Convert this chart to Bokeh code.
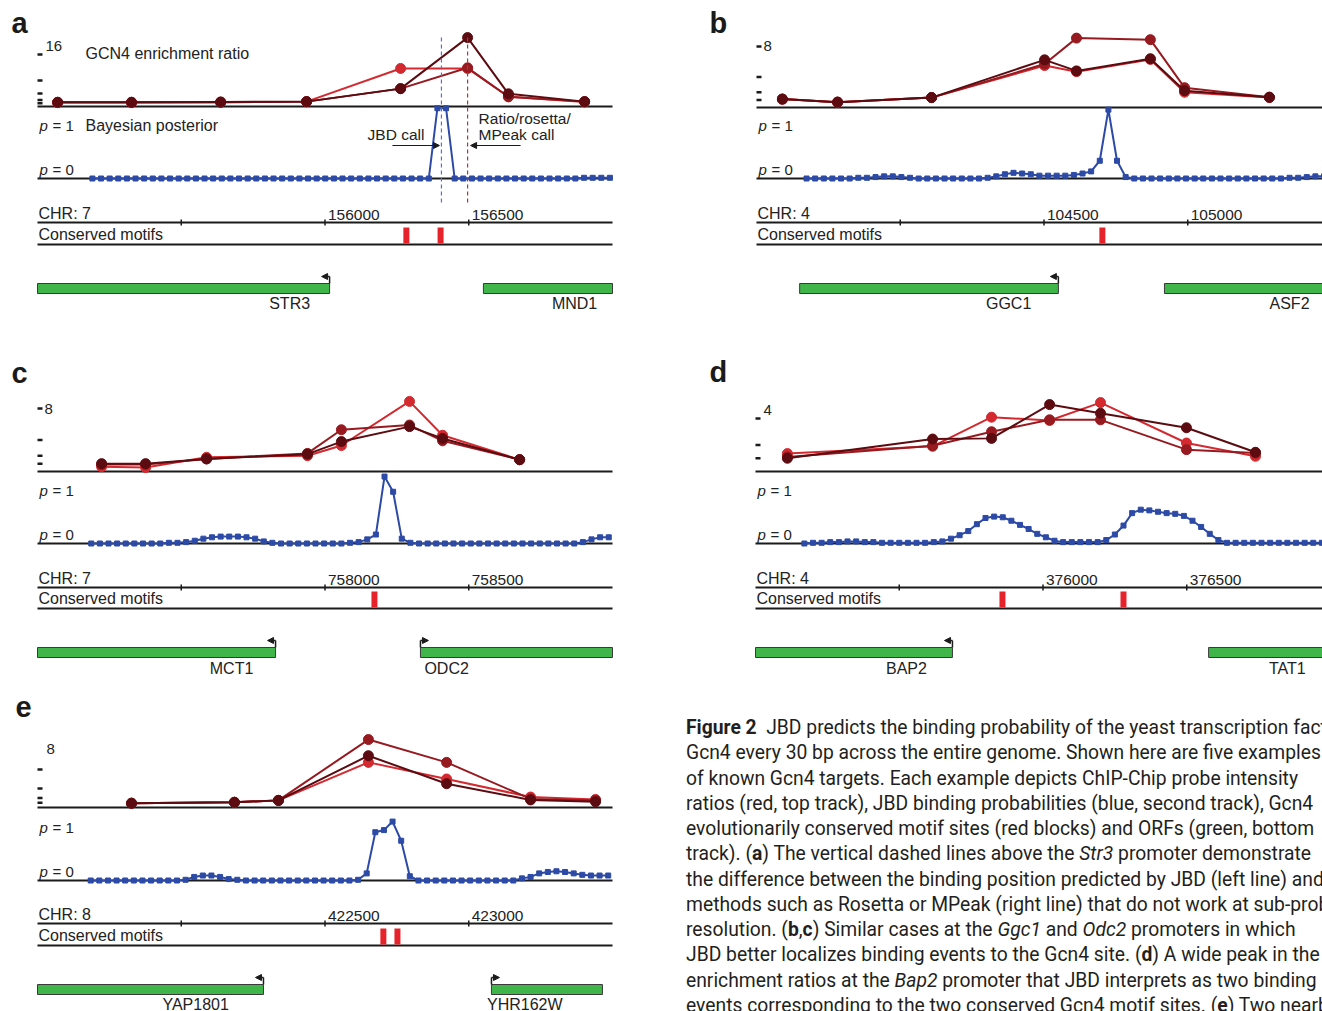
from bokeh.plotting import figure
from bokeh.models import Range1d, Div, Arrow, NormalHead
from bokeh.layouts import row, column
from bokeh.embed import file_html
from bokeh.resources import INLINE
from bokeh.core.properties import value

# ------------------------------------------------------------------ data
POST_STEP = 30  # JBD posterior every 30 bp

# panel a
A_LETTER = "a"
A_CHR = "CHR: 7"
A_WINDOW = (155000, 157000)
A_PROBES = [155070, 155327, 155637, 155936, 156263, 156496, 156638, 156903]
A_RATIO_BRIGHT = [1.2, 1.2, 1.3, 1.5, 11.7, 11.7, 3.0, 1.4]
A_RATIO_MID = [1.3, 1.3, 1.3, 1.5, 5.5, 11.9, 3.0, 1.5]
A_RATIO_DARK = [1.3, 1.3, 1.4, 1.5, 5.5, 21.2, 3.9, 1.5]
A_RATIO_TICKS = [16, 8, 4, 2, 1]
A_RATIO_LABEL = "16"
A_POST_START = 155191
A_POST = [0.00, 0.00, 0.00, 0.00, 0.00, 0.00, 0.00, 0.00, 0.00, 0.00,
          0.00, 0.00, 0.00, 0.00, 0.00, 0.00, 0.00, 0.00, 0.00, 0.00,
          0.00, 0.00, 0.00, 0.00, 0.00, 0.00, 0.00, 0.00, 0.00, 0.00,
          0.00, 0.00, 0.00, 0.00, 0.00, 0.00, 0.00, 0.00, 0.00, 0.00,
          0.99, 0.99, 0.00, 0.00, 0.00, 0.00, 0.00, 0.00, 0.00, 0.00,
          0.00, 0.00, 0.00, 0.00, 0.00, 0.00, 0.00, 0.01, 0.01, 0.01, 0.01]
A_AXIS_TICKS = [155500, 156000, 156500]
A_AXIS_LABELS = ["", "156000", "156500"]
A_MOTIFS = [156283, 156402]
A_GENE_NAMES = ["STR3", "MND1"]
A_GENE_LEFT = [155000, 156551]
A_GENE_RIGHT = [156016, 157000]
A_GENE_LABEL_X = [155877, 156868]
A_GENE_TSS = [156016, None]
A_GENE_STRAND = [-1, 1]
A_CALLS = [156405, 156496]  # JBD call, Ratio/rosetta/MPeak call

# panel b
B_LETTER = "b"
B_CHR = "CHR: 4"
B_WINDOW = (103500, 105500)
B_PROBES = [103590, 103782, 104109, 104502, 104613, 104870, 104989, 105284]
B_RATIO_BRIGHT = [1.1, 0.7, 1.3, 5.5, 4.7, 6.3, 2.0, 1.3]
B_RATIO_MID = [1.1, 0.7, 1.3, 5.7, 9.1, 8.9, 2.6, 1.35]
B_RATIO_DARK = [1.1, 0.7, 1.3, 6.25, 4.8, 6.4, 2.2, 1.35]
B_RATIO_TICKS = [8, 4, 2, 1]
B_RATIO_LABEL = "8"
B_POST_START = 103674
B_POST = [0.00, 0.00, 0.00, 0.00, 0.00, 0.00, 0.01, 0.01, 0.02, 0.03,
          0.03, 0.02, 0.01, 0.00, 0.00, 0.00, 0.00, 0.00, 0.00, 0.00,
          0.00, 0.01, 0.03, 0.06, 0.08, 0.07, 0.06, 0.04, 0.04, 0.04,
          0.04, 0.05, 0.07, 0.10, 0.25, 0.97, 0.25, 0.02, 0.00, 0.00,
          0.00, 0.00, 0.00, 0.00, 0.00, 0.00, 0.00, 0.00, 0.00, 0.00,
          0.00, 0.00, 0.00, 0.00, 0.00, 0.00, 0.01, 0.01, 0.02, 0.03, 0.03]
B_AXIS_TICKS = [104000, 104500, 105000]
B_AXIS_LABELS = ["", "104500", "105000"]
B_MOTIFS = [104703]
B_GENE_NAMES = ["GGC1", "ASF2"]
B_GENE_LEFT = [103650, 104919]
B_GENE_RIGHT = [104550, 105500]
B_GENE_LABEL_X = [104377, 105354]
B_GENE_TSS = [104550, None]
B_GENE_STRAND = [-1, 1]

# panel c
C_LETTER = "c"
C_CHR = "CHR: 7"
C_WINDOW = (757000, 759000)
C_PROBES = [757223, 757376, 757588, 757939, 758057, 758294, 758409, 758677]
C_RATIO_BRIGHT = [0.6, 0.5, 1.8, 2.0, 3.3, 8.9, 4.6, 1.5]
C_RATIO_MID = [0.9, 0.9, 1.6, 2.3, 5.3, 5.9, 3.9, 1.5]
C_RATIO_DARK = [1.0, 1.0, 1.6, 2.2, 3.8, 5.7, 4.2, 1.5]
C_RATIO_TICKS = [8, 4, 2, 1]
C_RATIO_LABEL = "8"
C_POST_START = 757187
C_POST = [0.00, 0.00, 0.00, 0.00, 0.00, 0.00, 0.00, 0.00, 0.00, 0.01,
          0.01, 0.02, 0.04, 0.07, 0.09, 0.10, 0.10, 0.10, 0.09, 0.07,
          0.03, 0.01, 0.00, 0.00, 0.00, 0.00, 0.00, 0.00, 0.00, 0.00,
          0.01, 0.02, 0.06, 0.13, 0.97, 0.75, 0.07, 0.01, 0.00, 0.00,
          0.00, 0.00, 0.00, 0.00, 0.00, 0.00, 0.00, 0.00, 0.00, 0.00,
          0.00, 0.00, 0.00, 0.00, 0.00, 0.00, 0.00, 0.02, 0.06, 0.09, 0.09]
C_AXIS_TICKS = [757500, 758000, 758500]
C_AXIS_LABELS = ["", "758000", "758500"]
C_MOTIFS = [758172]
C_GENE_NAMES = ["MCT1", "ODC2"]
C_GENE_LEFT = [757000, 758332]
C_GENE_RIGHT = [757828, 759000]
C_GENE_LABEL_X = [757675, 758423]
C_GENE_TSS = [757828, 758332]
C_GENE_STRAND = [-1, 1]

# panel d
D_LETTER = "d"
D_CHR = "CHR: 4"
D_WINDOW = (375000, 377000)
D_PROBES = [375111, 375616, 375821, 376023, 376200, 376499, 376739]
D_RATIO_BRIGHT = [1.35, 1.9, 4.1, 3.85, 5.2, 2.15, 1.15]
D_RATIO_MID = [1.1, 1.95, 3.0, 3.9, 3.9, 1.65, 1.4]
D_RATIO_DARK = [1.0, 2.45, 2.5, 5.05, 4.4, 3.3, 1.45]
D_RATIO_TICKS = [4, 2, 1]
D_RATIO_LABEL = "4"
D_POST_START = 375170
D_POST = [0.00, 0.01, 0.01, 0.02, 0.02, 0.03, 0.03, 0.02, 0.02, 0.01,
          0.01, 0.01, 0.01, 0.01, 0.01, 0.02, 0.03, 0.07, 0.12, 0.18,
          0.28, 0.37, 0.39, 0.38, 0.33, 0.27, 0.21, 0.14, 0.09, 0.04,
          0.02, 0.02, 0.02, 0.02, 0.02, 0.05, 0.13, 0.26, 0.44, 0.49,
          0.48, 0.46, 0.44, 0.43, 0.40, 0.33, 0.24, 0.14, 0.05, 0.01,
          0.01, 0.01, 0.01, 0.01, 0.01, 0.01, 0.01, 0.01, 0.01, 0.01, 0.01]
D_AXIS_TICKS = [375500, 376000, 376500]
D_AXIS_LABELS = ["", "376000", "376500"]
D_MOTIFS = [375859, 376280]
D_GENE_NAMES = ["BAP2", "TAT1"]
D_GENE_LEFT = [375000, 376576]
D_GENE_RIGHT = [375685, 377000]
D_GENE_LABEL_X = [375525, 376850]
D_GENE_TSS = [375685, None]
D_GENE_STRAND = [-1, 1]

# panel e
E_LETTER = "e"
E_CHR = "CHR: 8"
E_WINDOW = (421500, 423500)
E_PROBES = [421827, 422185, 422338, 422651, 422923, 423215, 423441]
E_RATIO_BRIGHT = [0.9, 1.1, 1.5, 9.5, 6.0, 2.2, 1.7]
E_RATIO_MID = [0.9, 1.1, 1.5, 14.3, 9.5, 1.8, 1.5]
E_RATIO_DARK = [0.9, 1.1, 1.5, 10.9, 5.0, 1.6, 1.2]
E_RATIO_TICKS = [8, 4, 2, 1]
E_RATIO_LABEL = "8"
E_POST_START = 421685
E_POST = [0.00, 0.00, 0.00, 0.00, 0.00, 0.00, 0.00, 0.00, 0.00, 0.00,
          0.00, 0.01, 0.05, 0.07, 0.07, 0.05, 0.02, 0.01, 0.00, 0.00,
          0.00, 0.00, 0.00, 0.00, 0.00, 0.00, 0.00, 0.00, 0.00, 0.00,
          0.00, 0.01, 0.10, 0.68, 0.71, 0.83, 0.56, 0.06, 0.00, 0.00,
          0.00, 0.00, 0.00, 0.00, 0.00, 0.00, 0.00, 0.00, 0.00, 0.00,
          0.03, 0.05, 0.10, 0.12, 0.13, 0.12, 0.10, 0.08, 0.07, 0.07, 0.07]
E_AXIS_TICKS = [422000, 422500, 423000]
E_AXIS_LABELS = ["", "422500", "423000"]
E_MOTIFS = [422703, 422752]
E_GENE_NAMES = ["YAP1801", "YHR162W"]
E_GENE_LEFT = [421500, 423079]
E_GENE_RIGHT = [422286, 423465]
E_GENE_LABEL_X = [422050, 423195]
E_GENE_TSS = [422286, 423079]
E_GENE_STRAND = [-1, 1]

CAPTION_LINES = [
    "<b>Figure 2</b>&nbsp;&nbsp;JBD predicts the binding probability of the yeast transcription factor",
    "Gcn4 every 30 bp across the entire genome. Shown here are five examples",
    "of known Gcn4 targets. Each example depicts ChIP-Chip probe intensity",
    "ratios (red, top track), JBD binding probabilities (blue, second track), Gcn4",
    "evolutionarily conserved motif sites (red blocks) and ORFs (green, bottom",
    "track). (<b>a</b>) The vertical dashed lines above the <i>Str3</i> promoter demonstrate",
    "the difference between the binding position predicted by JBD (left line) and",
    "methods such as Rosetta or MPeak (right line) that do not work at sub-probe",
    "resolution. (<b>b</b>,<b>c</b>) Similar cases at the <i>Ggc1</i> and <i>Odc2</i> promoters in which",
    "JBD better localizes binding events to the Gcn4 site. (<b>d</b>) A wide peak in the",
    "enrichment ratios at the <i>Bap2</i> promoter that JBD interprets as two binding",
    "events corresponding to the two conserved Gcn4 motif sites. (<b>e</b>) Two nearby",
]

# ------------------------------------------------------------------ style
PX_PER_BP = 575 / 2000
FONT = "Liberation Sans"
BLACK = "#1b1b1b"
TEXT = "#222222"
BLUE = "#2c4aa6"
GREEN = "#3fb54a"
MOTIF_RED = "#e6232a"
RATIO_COLORS = ["#d3292f", "#961a1f", "#5c0b10"]


def build_panel(d, lay):
    s = PX_PER_BP
    g0, g1 = d["window"]
    xs = lay["xs"]
    X0, Y0, W, H = lay["frame"]

    def gx(px):
        return g0 + (px - xs) / s

    def dg(px):
        return px / s

    p = figure(width=W, height=H,
               x_range=Range1d(gx(X0), gx(X0 + W)),
               y_range=Range1d(Y0 + H, Y0),
               x_axis_type=None, y_axis_type=None, min_border=0,
               toolbar_location=None, output_backend="svg",
               outline_line_color=None, background_fill_color="white",
               border_fill_color="white", margin=(0, 0, 0, 0))
    base, ppu = lay["base"], lay["ppu"]
    p0, p1 = lay["p0"], lay["p1"]
    pp = p0 - p1
    p.extra_y_ranges = {
        "ratio": Range1d((base - (Y0 + H)) / ppu, (base - Y0) / ppu),
        "post": Range1d((p0 - (Y0 + H)) / pp, (p0 - Y0) / pp),
    }

    def txt(x, y, t, size="16px", align="left", style="normal", color=TEXT, **kw):
        p.text(x=[x], y=[y], text=[t], text_font=value(FONT), text_font_size=size,
               text_align=align, text_baseline="middle", text_font_style=style,
               text_color=color, **kw)

    def hline(y, width=2):
        p.segment(x0=[g0], y0=[y], x1=[g1], y1=[y], line_color=BLACK, line_width=width)

    # panel letter
    lx, ly = lay["letter"]
    txt(gx(lx), ly, d["letter"], size="29px", style="bold", color="#1a1a1a")

    # ---- ratio track
    hline(base)
    ticks = d["ratio_ticks"]
    n = len(ticks)
    p.segment(x0=[g0] * n, y0=ticks, x1=[g0 + dg(5)] * n, y1=ticks,
              line_color=BLACK, line_width=2.5, y_range_name="ratio")
    ldx, ldy = lay["ratio_label_off"]
    p.text(x=[g0 + dg(ldx)], y=[ticks[0]], text=[d["ratio_label"]], y_offset=ldy,
           text_font=value(FONT), text_font_size="15px", text_baseline="middle",
           text_color=TEXT, y_range_name="ratio")
    for vals, col in zip(d["ratios"], RATIO_COLORS):
        p.line(d["probes"], vals, line_color=col, line_width=2, y_range_name="ratio")
        p.scatter(d["probes"], vals, size=10, fill_color=col, line_color=col,
                  y_range_name="ratio")

    # ---- posterior track
    hline(p0)
    post = d["post"]
    xp = [d["post_start"] + POST_STEP * i for i in range(len(post))]
    p.line(xp, post, line_color=BLUE, line_width=2, y_range_name="post")
    p.scatter(xp, post, marker="square", size=5, fill_color=BLUE, line_color=BLUE,
              y_range_name="post")
    for yy, lab in ((p0 - 53, "= 1"), (p0 - 9, "= 0")):
        txt(gx(xs + 2), yy, "p", size="15px", style="italic")
        txt(gx(xs + 15), yy, lab, size="15px")

    # ---- chromosome axis
    cy = lay["chr_y"]
    hline(cy)
    at = d["axis_ticks"]
    p.segment(x0=at, y0=[cy - 3] * len(at), x1=at, y1=[cy + 3] * len(at),
              line_color=BLACK, line_width=1.5)
    p.text(x=at, y=[cy - 8] * len(at), text=d["axis_labels"], x_offset=3,
           text_font=value(FONT), text_font_size="15.5px", text_baseline="middle",
           text_color=TEXT)
    txt(gx(xs + 1), cy - 9, d["chr"])

    # ---- conserved motifs
    my = lay["motif_y"]
    hline(my)
    txt(gx(xs + 1), my - 10, "Conserved motifs")
    mt = d["motifs"]
    p.rect(x=mt, y=[my - 9] * len(mt), width=6, height=16, width_units="screen",
           height_units="screen", fill_color=MOTIF_RED, line_color=None)

    # ---- genes
    gt, gb = lay["gene_y"]
    left = [max(v, g0) for v in d["gene_left"]]
    right = [min(v, g1) for v in d["gene_right"]]
    p.quad(left=left, right=right, top=[gt] * len(left), bottom=[gb] * len(left),
           fill_color=GREEN, line_color="#3a3a3a", line_width=1)
    p.text(x=d["gene_label_x"], y=[lay["gene_label_y"]] * len(left), text=d["gene_names"],
           text_font=value(FONT), text_font_size="16px", text_align="center",
           text_baseline="middle", text_color=TEXT)
    for tss, strand in zip(d["gene_tss"], d["gene_strand"]):
        if tss is None:
            continue
        p.segment(x0=[tss], y0=[gt], x1=[tss], y1=[gt - 7], line_color=BLACK, line_width=1.5)
        p.add_layout(Arrow(end=NormalHead(size=6, fill_color=BLACK, line_color=BLACK),
                           x_start=tss, y_start=gt - 7, x_end=tss + strand * dg(8),
                           y_end=gt - 7, line_color=BLACK, line_width=1.5))

    # ---- panel a annotations
    if "calls" in d:
        jbd, rat = d["calls"]
        txt(gx(85), 53, "GCN4 enrichment ratio")
        txt(gx(85), p0 - 53, "Bayesian posterior")
        p.segment(x0=[jbd], y0=[37], x1=[jbd], y1=[203], line_color="#5b6fcf",
                  line_width=1.2, line_dash="4 3")
        p.segment(x0=[rat], y0=[37], x1=[rat], y1=[203], line_color="#b5343c",
                  line_width=1.2, line_dash="4 3")
        txt(jbd - dg(17), 134, "JBD call", size="15.5px", align="right")
        txt(rat + dg(11), 118, "Ratio/rosetta/", size="15.5px")
        txt(rat + dg(11), 134, "MPeak call", size="15.5px")
        p.add_layout(Arrow(end=NormalHead(size=6, fill_color=BLACK, line_color=BLACK),
                           x_start=jbd - dg(49), y_start=145, x_end=jbd - dg(2), y_end=145,
                           line_color=BLACK, line_width=1.2))
        p.add_layout(Arrow(end=NormalHead(size=6, fill_color=BLACK, line_color=BLACK),
                           x_start=rat + dg(53), y_start=145, x_end=rat + dg(3), y_end=145,
                           line_color=BLACK, line_width=1.2))
    return p


def pack(letter, chrom, window, probes, bright, mid, dark, rticks, rlabel, pstart, post,
         aticks, alabels, motifs, names, gl, gr, glx, tss, strand, calls=None):
    d = dict(letter=letter, chr=chrom, window=window, probes=probes,
             ratios=[bright, mid, dark], ratio_ticks=rticks, ratio_label=rlabel,
             post_start=pstart, post=post, axis_ticks=aticks, axis_labels=alabels,
             motifs=motifs, gene_names=names, gene_left=gl, gene_right=gr,
             gene_label_x=glx, gene_tss=tss, gene_strand=strand)
    if calls is not None:
        d["calls"] = calls
    return d


DA = pack(A_LETTER, A_CHR, A_WINDOW, A_PROBES, A_RATIO_BRIGHT, A_RATIO_MID, A_RATIO_DARK,
          A_RATIO_TICKS, A_RATIO_LABEL, A_POST_START, A_POST, A_AXIS_TICKS, A_AXIS_LABELS,
          A_MOTIFS, A_GENE_NAMES, A_GENE_LEFT, A_GENE_RIGHT, A_GENE_LABEL_X, A_GENE_TSS,
          A_GENE_STRAND, A_CALLS)
DB = pack(B_LETTER, B_CHR, B_WINDOW, B_PROBES, B_RATIO_BRIGHT, B_RATIO_MID, B_RATIO_DARK,
          B_RATIO_TICKS, B_RATIO_LABEL, B_POST_START, B_POST, B_AXIS_TICKS, B_AXIS_LABELS,
          B_MOTIFS, B_GENE_NAMES, B_GENE_LEFT, B_GENE_RIGHT, B_GENE_LABEL_X, B_GENE_TSS,
          B_GENE_STRAND)
DC = pack(C_LETTER, C_CHR, C_WINDOW, C_PROBES, C_RATIO_BRIGHT, C_RATIO_MID, C_RATIO_DARK,
          C_RATIO_TICKS, C_RATIO_LABEL, C_POST_START, C_POST, C_AXIS_TICKS, C_AXIS_LABELS,
          C_MOTIFS, C_GENE_NAMES, C_GENE_LEFT, C_GENE_RIGHT, C_GENE_LABEL_X, C_GENE_TSS,
          C_GENE_STRAND)
DD = pack(D_LETTER, D_CHR, D_WINDOW, D_PROBES, D_RATIO_BRIGHT, D_RATIO_MID, D_RATIO_DARK,
          D_RATIO_TICKS, D_RATIO_LABEL, D_POST_START, D_POST, D_AXIS_TICKS, D_AXIS_LABELS,
          D_MOTIFS, D_GENE_NAMES, D_GENE_LEFT, D_GENE_RIGHT, D_GENE_LABEL_X, D_GENE_TSS,
          D_GENE_STRAND)
DE = pack(E_LETTER, E_CHR, E_WINDOW, E_PROBES, E_RATIO_BRIGHT, E_RATIO_MID, E_RATIO_DARK,
          E_RATIO_TICKS, E_RATIO_LABEL, E_POST_START, E_POST, E_AXIS_TICKS, E_AXIS_LABELS,
          E_MOTIFS, E_GENE_NAMES, E_GENE_LEFT, E_GENE_RIGHT, E_GENE_LABEL_X, E_GENE_TSS,
          E_GENE_STRAND)

# ------------------------------------------------------------------ layout (reference pixels)
LA = dict(frame=(0, 0, 680, 345), xs=37, letter=(11, 22), base=106, ppu=3.25,
          ratio_label_off=(8, -9), p0=178, p1=107, chr_y=222, motif_y=244,
          gene_y=(283, 293), gene_label_y=303)
LB = dict(frame=(680, 0, 642, 345), xs=756, letter=(709, 22), base=107, ppu=7.625,
          ratio_label_off=(7, -1), p0=178, p1=107, chr_y=222, motif_y=244,
          gene_y=(283, 293), gene_label_y=303)
LC = dict(frame=(0, 345, 680, 340), xs=37, letter=(11, 372), base=471, ppu=7.875,
          ratio_label_off=(7, 0), p0=543, p1=474, chr_y=587, motif_y=608,
          gene_y=(647, 657), gene_label_y=668)
LD = dict(frame=(680, 345, 642, 360), xs=755, letter=(709, 371), base=471, ppu=13.25,
          ratio_label_off=(8, -9), p0=543, p1=474, chr_y=587, motif_y=608,
          gene_y=(647, 657), gene_label_y=668)
LE = dict(frame=(0, 685, 680, 326), xs=37, letter=(15, 706), base=807, ppu=4.75,
          ratio_label_off=(9, -21), p0=880, p1=809, chr_y=923, motif_y=945,
          gene_y=(984, 994), gene_label_y=1004)

pa = build_panel(DA, LA)
pb = build_panel(DB, LB)
pc = build_panel(DC, LC)
pd_ = build_panel(DD, LD)
pe = build_panel(DE, LE)

caption_html = (
    '<div style="box-sizing:border-box;font-family:Roboto,\'Open Sans\',sans-serif;'
    'font-size:19.3px;line-height:25.27px;color:#231f20;white-space:nowrap;'
    'overflow:hidden;width:642px;height:306px;padding:10px 0 0 6px;margin:0;">'
    + "<br>".join(CAPTION_LINES) + "</div>"
)
cap = Div(text=caption_html, width=642, height=306, margin=(0, 0, 0, 0),
          styles={"overflow": "hidden"})

layout = row(column(pa, pc, pe, spacing=0), column(pb, pd_, cap, spacing=0), spacing=0)
open("out.html", "w").write(file_html(layout, INLINE, title="Figure 2"))
